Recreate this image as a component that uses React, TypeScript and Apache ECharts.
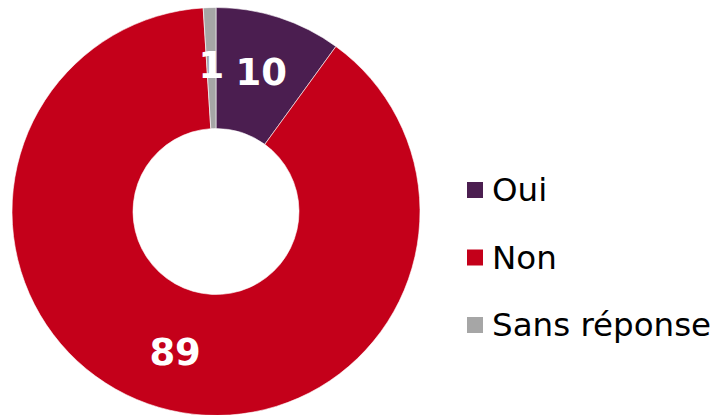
import React, { useEffect, useRef } from "react";
import * as echarts from "echarts";

const categories = ["Oui", "Non", "Sans réponse"];
const values = [10, 89, 1];
const colors = ["#4B1E50", "#C4001A", "#A6A6A6"];

export default function App() {
  const ref = useRef<HTMLDivElement>(null);
  useEffect(() => {
    if (!ref.current) return;
    const chart = echarts.init(ref.current, null, { renderer: "svg" });
    chart.setOption({
      animation: false,
      textStyle: { fontFamily: "DejaVu Sans" },
      legend: {
        orient: "vertical",
        left: 465,
        top: 172,
        padding: 0,
        itemWidth: 18,
        itemHeight: 18,
        itemGap: 31.5,
        icon: "rect",
        data: categories,
        textStyle: {
          fontFamily: "DejaVu Sans",
          fontSize: 32.5,
          lineHeight: 36,
          color: "#000",
          padding: [0, 0, 0, 3],
        },
      },
      series: [
        {
          type: "pie",
          center: [216, 211.5],
          radius: [83, 204],
          startAngle: 90,
          clockwise: true,
          avoidLabelOverlap: false,
          itemStyle: { borderColor: "#ffffff", borderWidth: 0.6 },
          label: {
            show: true,
            position: "inside",
            formatter: "{c}",
            color: "#fff",
            fontFamily: "DejaVu Sans",
            fontWeight: "bold",
            fontSize: 37,
          },
          labelLine: { show: false },
          emphasis: { disabled: true },
          data: categories.map((name, i) => ({
            name,
            value: values[i],
            itemStyle: { color: colors[i] },
          })),
        },
      ],
    });
    return () => chart.dispose();
  }, []);
  return <div ref={ref} style={{ width: 712, height: 415, position: "absolute", left: 0, top: 0 }} />;
}
